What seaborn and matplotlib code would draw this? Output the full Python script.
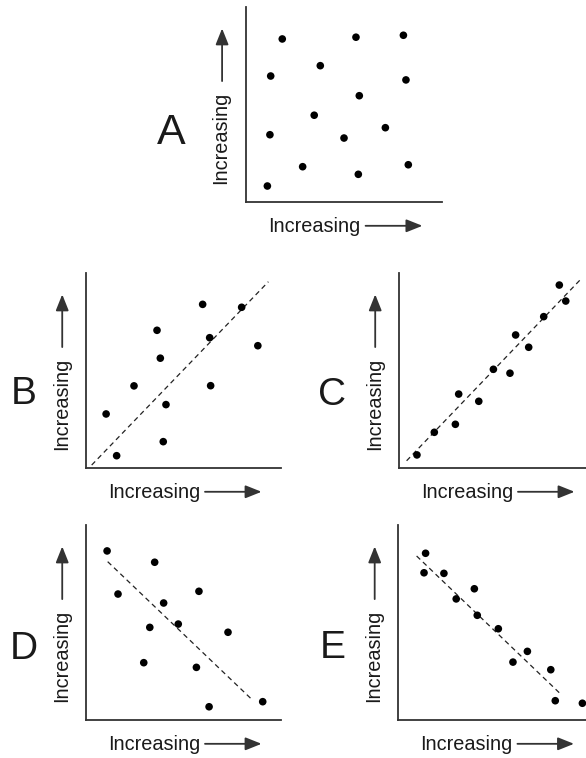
import numpy as np
import pandas as pd
import seaborn as sb
import matplotlib.pyplot as plt

# Panel A - no relationship
a_x = [18.5, 56.1, 80.3, 37.9, 12.6, 81.6, 57.8, 34.8, 71.1, 12.2, 50.0, 28.9, 82.8, 57.3, 10.9]
a_y = [83.6, 84.5, 85.5, 69.9, 64.6, 62.6, 54.5, 44.5, 38.1, 34.5, 32.8, 18.1, 19.1, 14.2, 8.2]

# Panel B - weak positive
b_x = [59.8, 79.8, 36.4, 63.4, 88.1, 38.1, 24.6, 63.9, 41.0, 10.3, 39.6, 15.7]
b_y = [83.9, 82.4, 70.6, 66.8, 62.7, 56.3, 42.1, 42.2, 32.5, 27.7, 13.5, 6.3]
b_line_x = [2.9, 93.5]
b_line_y = [1.5, 95.5]

# Panel C - strong positive
c_x = [82.2, 85.5, 74.2, 59.8, 66.5, 48.4, 56.9, 30.6, 40.9, 28.9, 18.1, 9.2]
c_y = [93.8, 85.6, 77.6, 68.2, 61.9, 50.6, 48.6, 37.9, 34.2, 22.4, 18.3, 6.7]
c_line_x = [3.9, 93.7]
c_line_y = [3.7, 97.3]

# Panel D - weak negative
d_x = [10.8, 35.2, 16.4, 57.9, 39.8, 47.3, 32.7, 72.8, 29.6, 56.6, 90.6, 63.1]
d_y = [86.7, 80.9, 64.6, 66.0, 60.0, 49.2, 47.5, 45.0, 29.4, 27.0, 9.4, 6.8]
d_line_x = [11.1, 85.5]
d_line_y = [81.2, 10.1]

# Panel E - strong negative
e_x = [13.9, 13.1, 23.3, 38.9, 29.6, 40.4, 51.2, 66.1, 58.7, 78.1, 80.4, 94.3]
e_y = [85.5, 75.5, 75.2, 67.3, 62.1, 53.7, 46.8, 35.2, 29.7, 25.8, 9.9, 8.6]
e_line_x = [9.3, 83.7]
e_line_y = [84.1, 12.8]

sb.set_style("white")
plt.rcParams['font.family'] = ['Liberation Sans', 'DejaVu Sans']

TXT = '#1a1a1a'
ARROW = dict(arrowstyle='-|>,head_length=0.7,head_width=0.28', color='#333333',
             lw=1.3, mutation_scale=14, shrinkA=0, shrinkB=0)


def draw_panel(ax, x, y, letter, letter_pos, letter_size, line_x=None, line_y=None):
    df = pd.DataFrame({'x': x, 'y': y})
    if line_x is not None:
        sb.lineplot(x=line_x, y=line_y, ax=ax, color='#222222', lw=0.9,
                    linestyle=(0, (4, 3)))
    sb.scatterplot(data=df, x='x', y='y', ax=ax, color='black', s=30,
                   edgecolor='none', zorder=5, clip_on=False)
    ax.set_xlim(0, 100)
    ax.set_ylim(0, 100)
    ax.set_xticks([])
    ax.set_yticks([])
    ax.set_xlabel('')
    ax.set_ylabel('')
    for side in ['top', 'right']:
        ax.spines[side].set_visible(False)
    for side in ['left', 'bottom']:
        ax.spines[side].set_color('#333333')
        ax.spines[side].set_linewidth(1.3)

    # axis labels with arrows
    ax.text(0.35, -0.127, 'Increasing', transform=ax.transAxes, fontsize=14.3,
            color=TXT, ha='center', va='center')
    ax.annotate('', xy=(0.90, -0.122), xytext=(0.61, -0.122),
                xycoords='axes fraction', arrowprops=ARROW, annotation_clip=False)
    ax.text(-0.127, 0.33, 'Increasing', transform=ax.transAxes, fontsize=14.3,
            color=TXT, ha='center', va='center', rotation=90)
    ax.annotate('', xy=(-0.122, 0.89), xytext=(-0.122, 0.62),
                xycoords='axes fraction', arrowprops=ARROW, annotation_clip=False)

    ax.text(letter_pos[0], letter_pos[1], letter, transform=ax.transAxes,
            fontsize=letter_size, color=TXT, ha='center', va='center')


fig = plt.figure(figsize=(5.86, 7.58), dpi=100)

ax_a = fig.add_axes([0.4198, 0.7335, 0.3345, 0.2573])
ax_b = fig.add_axes([0.1468, 0.3826, 0.3328, 0.2573])
ax_c = fig.add_axes([0.6809, 0.3826, 0.3328, 0.2573])
ax_d = fig.add_axes([0.1468, 0.0501, 0.3328, 0.2573])
ax_e = fig.add_axes([0.6800, 0.0501, 0.3328, 0.2573])

draw_panel(ax_a, a_x, a_y, 'A', (-0.38, 0.356), 31)
draw_panel(ax_b, b_x, b_y, 'B', (-0.318, 0.377), 28, b_line_x, b_line_y)
draw_panel(ax_c, c_x, c_y, 'C', (-0.342, 0.374), 28, c_line_x, c_line_y)
draw_panel(ax_d, d_x, d_y, 'D', (-0.32, 0.364), 28, d_line_x, d_line_y)
draw_panel(ax_e, e_x, e_y, 'E', (-0.336, 0.368), 28, e_line_x, e_line_y)

plt.savefig('out.png', dpi=100)
plt.close()
